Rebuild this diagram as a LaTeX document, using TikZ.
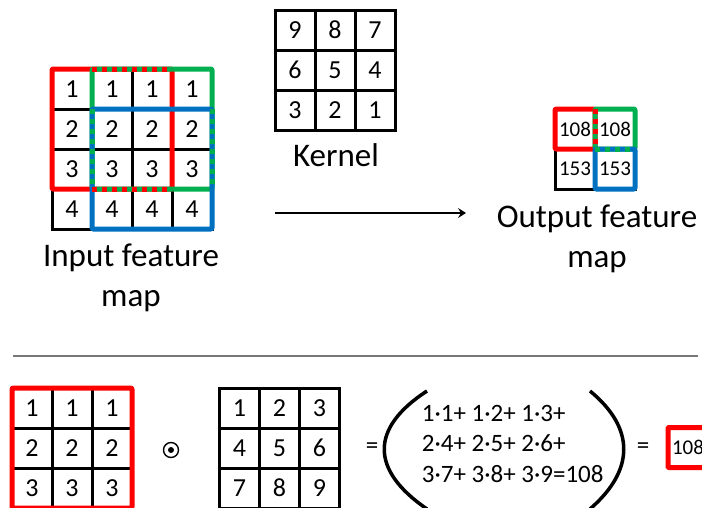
\documentclass[tikz,border=0pt]{standalone}
\usepackage{fontspec}
\setmainfont{Carlito}
\usetikzlibrary{arrows.meta}
\definecolor{boxred}{RGB}{255,0,0}
\definecolor{boxgreen}{RGB}{0,176,80}
\definecolor{boxblue}{RGB}{0,112,192}
\definecolor{rulegray}{RGB}{120,120,120}
\tikzset{
  cell/.style={draw, line width=3pt, minimum size=40pt, inner sep=0pt, outer sep=0pt,
               font=\fontsize{26}{28}\selectfont},
  smallcell/.style={cell, font=\fontsize{21}{22}\selectfont},
  hl/.style={line width=5pt, line join=round, rounded corners=1pt},
  dashover/.style={line width=5pt, dash pattern=on 5pt off 5pt},
  caption/.style={font=\fontsize{33}{40}\selectfont, inner sep=0pt, anchor=base},
  eqtext/.style={font=\fontsize{25}{28}\selectfont, inner sep=0pt, anchor=base west},
  bigsym/.style={font=\fontsize{25}{28}\selectfont, inner sep=0pt},
}
\begin{document}
\begin{tikzpicture}[x=1pt,y=-1pt]
\useasboundingbox (0,0) rectangle (702,507);

% ---- input feature map (4x4) ----
\foreach \v [count=\i from 0] in {1,1,1,1,2,2,2,2,3,3,3,3,4,4,4,4} {
  \pgfmathtruncatemacro\r{div(\i,4)}
  \pgfmathtruncatemacro\c{mod(\i,4)}
  \node[cell] (in-\r-\c) at ({72+40*\c},{89+40*\r}) {\v};
}
% receptive fields of the three output positions
\draw[hl, boxred]   (in-0-0.north west) rectangle (in-2-2.south east);
\draw[hl, boxgreen] (in-0-1.north west) rectangle (in-2-3.south east);
\draw[hl, boxblue]  (in-1-1.north west) rectangle (in-3-3.south east);
% shared edges
\draw[dashover, boxred]   (in-0-1.north west) -- (in-0-2.north east);
\draw[dashover, boxred]   (in-2-1.south west) -- (in-2-2.south east);
\draw[dashover, boxgreen] (in-1-1.north west) -- (in-2-1.south west);
\draw[dashover, boxgreen] (in-1-3.north east) -- (in-2-3.south east);
\node[caption] (inlbl1) at (131,266) {Input feature};
\node[caption] (inlbl2) at (131,306) {map};

% ---- kernel (3x3) ----
\foreach \v [count=\i from 0] in {9,8,7,6,5,4,3,2,1} {
  \pgfmathtruncatemacro\r{div(\i,3)}
  \pgfmathtruncatemacro\c{mod(\i,3)}
  \node[cell] (k-\r-\c) at ({295+40*\c},{30+40*\r}) {\v};
}
\node[caption] (klbl) at (336,166) {Kernel};

% ---- arrow ----
\coordinate (arr-a) at (275,213);
\coordinate (arr-b) at (466,213);
\draw[line width=2.5pt, -{Stealth[length=8pt,width=10pt,inset=3pt]}] (arr-a) -- (arr-b);

% ---- output feature map (2x2) ----
\foreach \v [count=\i from 0] in {108,108,153,153} {
  \pgfmathtruncatemacro\r{div(\i,2)}
  \pgfmathtruncatemacro\c{mod(\i,2)}
  \node[smallcell] (out-\r-\c) at ({575+40*\c},{129+40*\r}) {\v};
}
\draw[hl, boxred]   (out-0-0.north west) rectangle (out-0-0.south east);
\draw[hl, boxgreen] (out-0-1.north west) rectangle (out-0-1.south east);
\draw[hl, boxblue]  (out-1-1.north west) rectangle (out-1-1.south east);
\draw[dashover, boxred]   (out-0-1.north west) -- (out-0-1.south west);
\draw[dashover, boxgreen] (out-1-1.north west) -- (out-1-1.north east);
\node[caption] (outlbl1) at (597,227) {Output feature};
\node[caption] (outlbl2) at (597,267) {map};

% ---- separator ----
\coordinate (sep-a) at (13,356);
\coordinate (sep-b) at (698,356);
\draw[rulegray, line width=1.5pt] (sep-a) -- (sep-b);

% ---- worked example ----
\foreach \v [count=\i from 0] in {1,1,1,2,2,2,3,3,3} {
  \pgfmathtruncatemacro\r{div(\i,3)}
  \pgfmathtruncatemacro\c{mod(\i,3)}
  \node[cell] (p-\r-\c) at ({32+40*\c},{408+40*\r}) {\v};
}
\draw[hl, boxred] (p-0-0.north west) rectangle (p-2-2.south east);

% element-wise product sign
\node[circle, draw, line width=1.4pt, minimum size=15pt, inner sep=0pt] (odot) at (171,450) {};
\fill (odot.center) circle (3pt);

\foreach \v [count=\i from 0] in {1,2,3,4,5,6,7,8,9} {
  \pgfmathtruncatemacro\r{div(\i,3)}
  \pgfmathtruncatemacro\c{mod(\i,3)}
  \node[cell] (q-\r-\c) at ({239.5+40*\c},{408+40*\r}) {\v};
}

\node[bigsym] (eq1) at (372,448) {=};
% large parentheses
\coordinate (lp-t) at (427,391);
\coordinate (lp-b) at (427,509);
\coordinate (rp-t) at (590,391);
\coordinate (rp-b) at (590,509);
\draw[line width=3.5pt] (lp-t) .. controls (370,428) and (370,470) .. (lp-b);
\draw[line width=3.5pt] (rp-t) .. controls (635,428) and (635,470) .. (rp-b);
\node[eqtext] (l1) at (421.7,421.7) {1·1+ 1·2+ 1·3+};
\node[eqtext] (l2) at (421.7,451.7) {2·4+ 2·5+ 2·6+};
\node[eqtext] (l3) at (421.7,482)   {3·7+ 3·8+ 3·9=108};
\node[bigsym] (eq2) at (643,448) {=};
\node[smallcell, draw=boxred, line width=5pt, rounded corners=1pt] (res) at (688,447.5) {108};
\end{tikzpicture}
\end{document}
